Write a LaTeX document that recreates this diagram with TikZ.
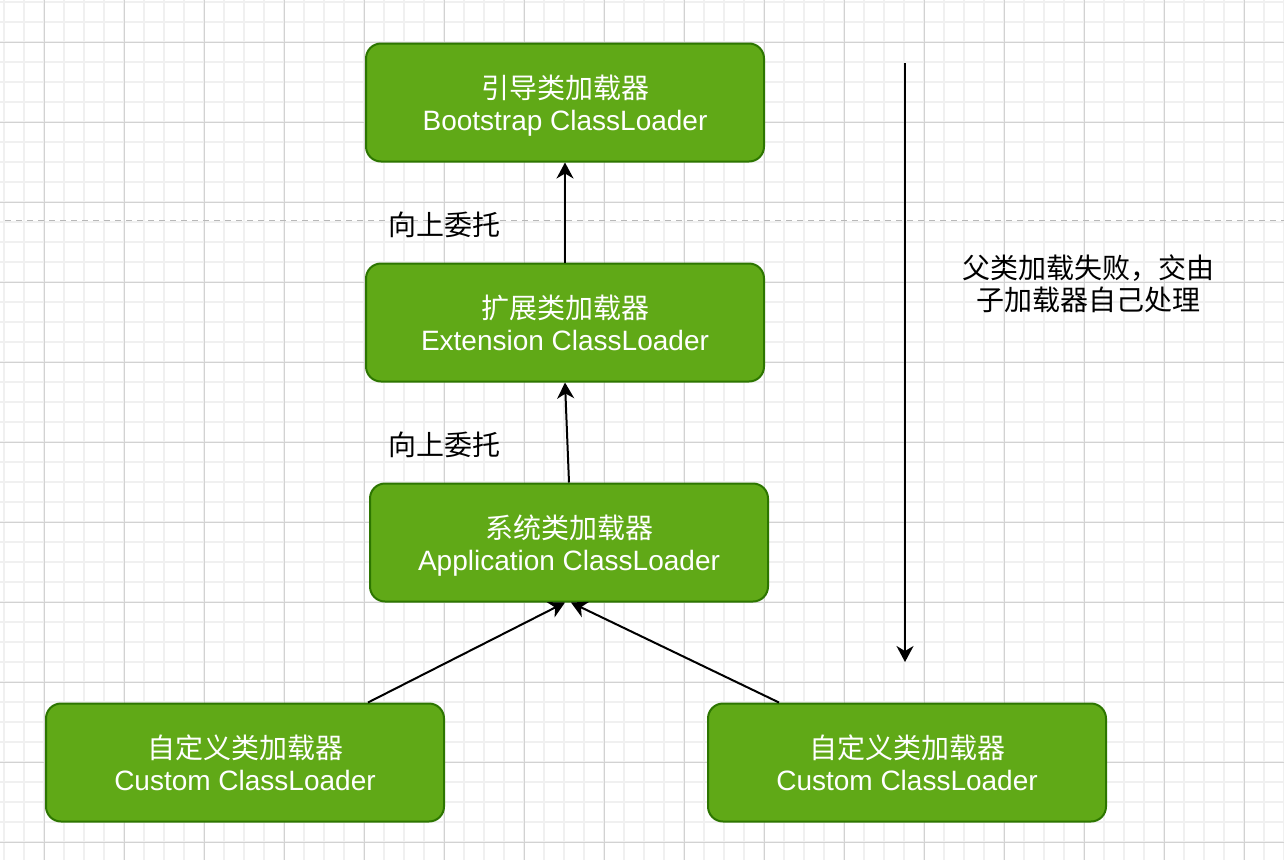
\documentclass[tikz,border=0pt]{standalone}
\usepackage{fontspec}
\setmainfont{Liberation Sans}
\newfontfamily\cjk{Noto Sans CJK SC}
\usetikzlibrary{arrows.meta,calc}
\definecolor{boxfill}{HTML}{60A917}
\definecolor{boxline}{HTML}{2D7600}
\definecolor{gridminor}{HTML}{F0F0F0}
\definecolor{gridmajor}{HTML}{D2D2D2}
\definecolor{dashcol}{HTML}{B8B8B8}
\begin{document}
\begin{tikzpicture}[x=1pt,y=-1pt,
  loader/.style={draw=boxline, fill=boxfill, line width=2pt, rounded corners=15pt,
    minimum width=398pt, minimum height=118pt, align=center, text=white,
    font=\fontsize{28}{32}\selectfont, inner sep=0pt, text depth=-3pt},
  conn/.style={line width=2pt, -{Stealth[length=16pt,width=17pt,inset=5pt]}},
  lbl/.style={font=\fontsize{28}{32}\selectfont\cjk, align=center, inner sep=0pt},
  minorgrid/.style={draw=gridminor, line width=1.2pt},
  majorgrid/.style={draw=gridmajor, line width=1pt},
  divider/.style={draw=dashcol, line width=1.5pt, dash pattern=on 6pt off 5pt}]
\useasboundingbox (0,0) rectangle (1284,860);
\fill[white] (0,0) rectangle (1284,860);
\begin{scope}
\clip (0,0) rectangle (1284,860);
\foreach \x in {4,24,...,1284} \draw[minorgrid] (\x,0) -- (\x,860);
\foreach \y in {2,22,...,860} \draw[minorgrid] (0,\y) -- (1284,\y);
\foreach \x in {44,124,...,1284} \draw[majorgrid] (\x,0) -- (\x,860);
\foreach \y in {42,122,...,860} \draw[majorgrid] (0,\y) -- (1284,\y);
\end{scope}
\coordinate (d1) at (5,220.5);
\coordinate (d2) at (1284,220.5);
\draw[divider] (d1) -- (d2);

\node[loader] (boot) at (565,102.5) {{\cjk 引导类加载器}\\Bootstrap ClassLoader};
\node[loader] (ext) at (565,322.5) {{\cjk 扩展类加载器}\\Extension ClassLoader};
\node[loader] (app) at (569,542.5) {{\cjk 系统类加载器}\\Application ClassLoader};
\node[loader] (cl) at (245,762.5) {{\cjk 自定义类加载器}\\Custom ClassLoader};
\node[loader] (cr) at (907,762.5) {{\cjk 自定义类加载器}\\Custom ClassLoader};

\node[lbl] (l1) at (444,225) {向上委托};
\node[lbl] (l2) at (444,445) {向上委托};
\node[lbl] (note) at (1088,284) {父类加载失败，交由\\子加载器自己处理};

\draw[conn] (ext.north) -- (boot.south);
\draw[conn] (app.north) -- (ext.south);
\draw[conn] ($(cl.north west)+(323,0)$) -- ($(app.south)+(-4,0)$);
\draw[conn] ($(cr.north west)+(72,0)$) -- ($(app.south)+(2,0)$);
\coordinate (v1) at (905,63);
\coordinate (v2) at (905,662);
\draw[conn] (v1) -- (v2);
\end{tikzpicture}
\end{document}
